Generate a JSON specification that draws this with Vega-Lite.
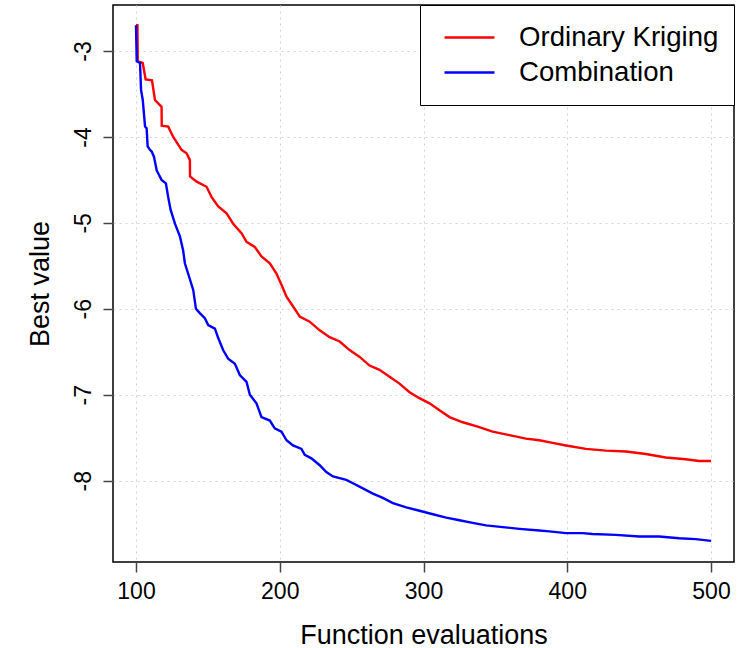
{
  "$schema": "https://vega.github.io/schema/vega-lite/v6.json",
  "width": 621,
  "height": 557,
  "autosize": "none",
  "padding": {"left": 113, "top": 5, "right": 7, "bottom": 86},
  "background": "white",
  "config": {
    "font": "Liberation Sans",
    "view": {"stroke": "black", "strokeWidth": 1.5},
    "axis": {
      "domain": false,
      "grid": true,
      "gridColor": "#D3D3D3",
      "gridDash": [2, 4],
      "gridWidth": 1,
      "tickColor": "#444444",
      "tickWidth": 1.5,
      "tickSize": 10,
      "labelColor": "black",
      "labelFontSize": 23,
      "titleFontSize": 27,
      "titleFontWeight": "normal",
      "titleColor": "black"
    }
  },
  "datasets": {
    "curves": [
      {"method": "Ordinary Kriging", "evals": 100, "best": -2.70},
      {"method": "Ordinary Kriging", "evals": 101, "best": -2.70},
      {"method": "Ordinary Kriging", "evals": 101.2, "best": -3.12},
      {"method": "Ordinary Kriging", "evals": 104.7, "best": -3.14},
      {"method": "Ordinary Kriging", "evals": 106.7, "best": -3.33},
      {"method": "Ordinary Kriging", "evals": 111.1, "best": -3.34},
      {"method": "Ordinary Kriging", "evals": 113.2, "best": -3.57},
      {"method": "Ordinary Kriging", "evals": 117.8, "best": -3.65},
      {"method": "Ordinary Kriging", "evals": 117.9, "best": -3.87},
      {"method": "Ordinary Kriging", "evals": 122.4, "best": -3.88},
      {"method": "Ordinary Kriging", "evals": 125.9, "best": -4.00},
      {"method": "Ordinary Kriging", "evals": 131.7, "best": -4.15},
      {"method": "Ordinary Kriging", "evals": 135.2, "best": -4.19},
      {"method": "Ordinary Kriging", "evals": 137.5, "best": -4.27},
      {"method": "Ordinary Kriging", "evals": 137.6, "best": -4.46},
      {"method": "Ordinary Kriging", "evals": 142.2, "best": -4.52},
      {"method": "Ordinary Kriging", "evals": 149.1, "best": -4.58},
      {"method": "Ordinary Kriging", "evals": 152.6, "best": -4.70},
      {"method": "Ordinary Kriging", "evals": 157.2, "best": -4.81},
      {"method": "Ordinary Kriging", "evals": 163.0, "best": -4.89},
      {"method": "Ordinary Kriging", "evals": 167.6, "best": -5.01},
      {"method": "Ordinary Kriging", "evals": 173.4, "best": -5.12},
      {"method": "Ordinary Kriging", "evals": 176.9, "best": -5.22},
      {"method": "Ordinary Kriging", "evals": 182.6, "best": -5.28},
      {"method": "Ordinary Kriging", "evals": 187.3, "best": -5.39},
      {"method": "Ordinary Kriging", "evals": 193.1, "best": -5.47},
      {"method": "Ordinary Kriging", "evals": 197.7, "best": -5.59},
      {"method": "Ordinary Kriging", "evals": 201.2, "best": -5.72},
      {"method": "Ordinary Kriging", "evals": 204.7, "best": -5.86},
      {"method": "Ordinary Kriging", "evals": 209.2, "best": -5.97},
      {"method": "Ordinary Kriging", "evals": 213.9, "best": -6.09},
      {"method": "Ordinary Kriging", "evals": 220.8, "best": -6.15},
      {"method": "Ordinary Kriging", "evals": 227.8, "best": -6.25},
      {"method": "Ordinary Kriging", "evals": 234.7, "best": -6.33},
      {"method": "Ordinary Kriging", "evals": 241.7, "best": -6.38},
      {"method": "Ordinary Kriging", "evals": 248.6, "best": -6.48},
      {"method": "Ordinary Kriging", "evals": 255.6, "best": -6.56},
      {"method": "Ordinary Kriging", "evals": 262.5, "best": -6.66},
      {"method": "Ordinary Kriging", "evals": 269.4, "best": -6.71},
      {"method": "Ordinary Kriging", "evals": 276.4, "best": -6.79},
      {"method": "Ordinary Kriging", "evals": 283.3, "best": -6.87},
      {"method": "Ordinary Kriging", "evals": 290.3, "best": -6.97},
      {"method": "Ordinary Kriging", "evals": 297.2, "best": -7.04},
      {"method": "Ordinary Kriging", "evals": 304.2, "best": -7.10},
      {"method": "Ordinary Kriging", "evals": 311.1, "best": -7.18},
      {"method": "Ordinary Kriging", "evals": 318.1, "best": -7.26},
      {"method": "Ordinary Kriging", "evals": 327.3, "best": -7.32},
      {"method": "Ordinary Kriging", "evals": 337.7, "best": -7.37},
      {"method": "Ordinary Kriging", "evals": 348.1, "best": -7.43},
      {"method": "Ordinary Kriging", "evals": 359.7, "best": -7.47},
      {"method": "Ordinary Kriging", "evals": 371.3, "best": -7.51},
      {"method": "Ordinary Kriging", "evals": 380.6, "best": -7.53},
      {"method": "Ordinary Kriging", "evals": 389.8, "best": -7.56},
      {"method": "Ordinary Kriging", "evals": 399.1, "best": -7.59},
      {"method": "Ordinary Kriging", "evals": 413.0, "best": -7.63},
      {"method": "Ordinary Kriging", "evals": 426.9, "best": -7.65},
      {"method": "Ordinary Kriging", "evals": 440.8, "best": -7.66},
      {"method": "Ordinary Kriging", "evals": 454.7, "best": -7.69},
      {"method": "Ordinary Kriging", "evals": 468.5, "best": -7.73},
      {"method": "Ordinary Kriging", "evals": 482.4, "best": -7.75},
      {"method": "Ordinary Kriging", "evals": 491.7, "best": -7.77},
      {"method": "Ordinary Kriging", "evals": 500, "best": -7.77},
      {"method": "Combination", "evals": 100, "best": -2.70},
      {"method": "Combination", "evals": 100.5, "best": -3.12},
      {"method": "Combination", "evals": 102.8, "best": -3.14},
      {"method": "Combination", "evals": 103.5, "best": -3.45},
      {"method": "Combination", "evals": 104.7, "best": -3.57},
      {"method": "Combination", "evals": 106.3, "best": -3.88},
      {"method": "Combination", "evals": 107.4, "best": -3.90},
      {"method": "Combination", "evals": 108.1, "best": -4.11},
      {"method": "Combination", "evals": 109.7, "best": -4.15},
      {"method": "Combination", "evals": 110.9, "best": -4.17},
      {"method": "Combination", "evals": 112.5, "best": -4.23},
      {"method": "Combination", "evals": 114.4, "best": -4.39},
      {"method": "Combination", "evals": 117.8, "best": -4.50},
      {"method": "Combination", "evals": 120.8, "best": -4.54},
      {"method": "Combination", "evals": 122.4, "best": -4.70},
      {"method": "Combination", "evals": 124.1, "best": -4.85},
      {"method": "Combination", "evals": 127.1, "best": -5.01},
      {"method": "Combination", "evals": 130.6, "best": -5.16},
      {"method": "Combination", "evals": 132.8, "best": -5.32},
      {"method": "Combination", "evals": 134.0, "best": -5.47},
      {"method": "Combination", "evals": 137.0, "best": -5.63},
      {"method": "Combination", "evals": 139.8, "best": -5.78},
      {"method": "Combination", "evals": 141.7, "best": -6.00},
      {"method": "Combination", "evals": 144.4, "best": -6.05},
      {"method": "Combination", "evals": 147.9, "best": -6.11},
      {"method": "Combination", "evals": 150.2, "best": -6.19},
      {"method": "Combination", "evals": 154.9, "best": -6.23},
      {"method": "Combination", "evals": 157.2, "best": -6.34},
      {"method": "Combination", "evals": 160.6, "best": -6.48},
      {"method": "Combination", "evals": 164.1, "best": -6.58},
      {"method": "Combination", "evals": 168.8, "best": -6.64},
      {"method": "Combination", "evals": 172.2, "best": -6.77},
      {"method": "Combination", "evals": 176.9, "best": -6.85},
      {"method": "Combination", "evals": 179.2, "best": -7.00},
      {"method": "Combination", "evals": 183.8, "best": -7.10},
      {"method": "Combination", "evals": 187.3, "best": -7.26},
      {"method": "Combination", "evals": 193.1, "best": -7.30},
      {"method": "Combination", "evals": 196.5, "best": -7.39},
      {"method": "Combination", "evals": 201.2, "best": -7.43},
      {"method": "Combination", "evals": 204.7, "best": -7.53},
      {"method": "Combination", "evals": 209.2, "best": -7.59},
      {"method": "Combination", "evals": 215.1, "best": -7.63},
      {"method": "Combination", "evals": 217.4, "best": -7.70},
      {"method": "Combination", "evals": 222.0, "best": -7.74},
      {"method": "Combination", "evals": 227.8, "best": -7.82},
      {"method": "Combination", "evals": 232.4, "best": -7.90},
      {"method": "Combination", "evals": 237.0, "best": -7.95},
      {"method": "Combination", "evals": 246.3, "best": -7.99},
      {"method": "Combination", "evals": 250.9, "best": -8.03},
      {"method": "Combination", "evals": 257.8, "best": -8.09},
      {"method": "Combination", "evals": 264.8, "best": -8.15},
      {"method": "Combination", "evals": 271.7, "best": -8.20},
      {"method": "Combination", "evals": 278.7, "best": -8.26},
      {"method": "Combination", "evals": 288.0, "best": -8.31},
      {"method": "Combination", "evals": 297.2, "best": -8.35},
      {"method": "Combination", "evals": 306.5, "best": -8.39},
      {"method": "Combination", "evals": 315.8, "best": -8.43},
      {"method": "Combination", "evals": 325.0, "best": -8.46},
      {"method": "Combination", "evals": 334.2, "best": -8.49},
      {"method": "Combination", "evals": 343.5, "best": -8.52},
      {"method": "Combination", "evals": 355.1, "best": -8.54},
      {"method": "Combination", "evals": 366.7, "best": -8.56},
      {"method": "Combination", "evals": 380.6, "best": -8.58},
      {"method": "Combination", "evals": 387.5, "best": -8.59},
      {"method": "Combination", "evals": 399.1, "best": -8.61},
      {"method": "Combination", "evals": 410.6, "best": -8.61},
      {"method": "Combination", "evals": 417.6, "best": -8.62},
      {"method": "Combination", "evals": 433.8, "best": -8.63},
      {"method": "Combination", "evals": 450.0, "best": -8.65},
      {"method": "Combination", "evals": 463.9, "best": -8.65},
      {"method": "Combination", "evals": 477.8, "best": -8.67},
      {"method": "Combination", "evals": 489.4, "best": -8.68},
      {"method": "Combination", "evals": 500, "best": -8.70}
    ]
  },
  "data": {"name": "curves"},
  "mark": {"type": "line", "strokeWidth": 2.4},
  "encoding": {
    "x": {
      "field": "evals",
      "type": "quantitative",
      "scale": {"domain": [84, 516], "nice": false, "zero": false},
      "axis": {
        "values": [100, 200, 300, 400, 500],
        "title": "Function evaluations",
        "labelPadding": 8,
        "titlePadding": 19
      }
    },
    "y": {
      "field": "best",
      "type": "quantitative",
      "scale": {"domain": [-8.946, -2.465], "nice": false, "zero": false},
      "axis": {
        "values": [-3, -4, -5, -6, -7, -8],
        "labelExpr": "toString(datum.value)",
        "title": "Best value",
        "labelAngle": -90,
        "labelAlign": "center",
        "labelBaseline": "bottom",
        "labelPadding": 8,
        "titlePadding": 18
      }
    },
    "color": {
      "field": "method",
      "type": "nominal",
      "sort": ["Ordinary Kriging", "Combination"],
      "scale": {"domain": ["Ordinary Kriging", "Combination"], "range": ["#FF0000", "#0000FF"]},
      "legend": {
        "title": null,
        "orient": "top-right",
        "offset": 0,
        "strokeColor": "black",
        "fillColor": "white",
        "padding": 15,
        "symbolOffset": 8,
        "symbolType": "stroke",
        "symbolSize": 2500,
        "symbolStrokeWidth": 2.4,
        "clipHeight": 35,
        "rowPadding": 0,
        "labelFontSize": 27.6,
        "labelColor": "black",
        "labelLimit": 400,
        "labelOffset": 23
      }
    }
  }
}
